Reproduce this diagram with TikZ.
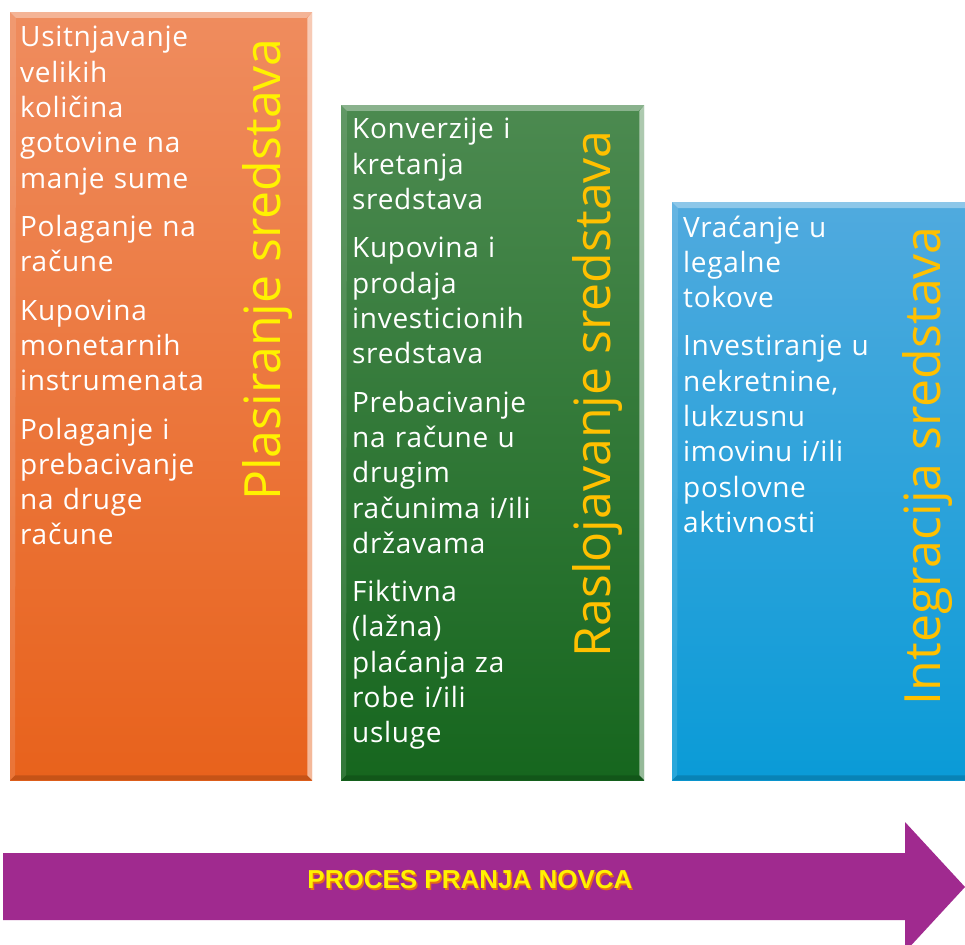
\documentclass[tikz,border=0pt]{standalone}
\usepackage{fontspec}
\setmainfont{Open Sans}
\newfontfamily\stavkefont{Open Sans}[LetterSpace=2.5]
\newfontfamily\naslovfont{Open Sans}
\newfontfamily\strelafont{Liberation Sans}
\usetikzlibrary{positioning, calc}
\definecolor{nargore}{RGB}{239,140,94}
\definecolor{nardole}{RGB}{232,98,28}
\definecolor{zelgore}{RGB}{76,138,80}
\definecolor{zeldole}{RGB}{22,102,30}
\definecolor{plagore}{RGB}{80,170,222}
\definecolor{pladole}{RGB}{10,155,215}
\definecolor{zlatna}{RGB}{255,192,0}
\definecolor{ljubicasta}{RGB}{160,42,143}
\definecolor{senkaboja}{RGB}{232,112,20}
\tikzset{kolona/.style={rectangle, inner sep=0, anchor=north west},
	stavke/.style={anchor=base west, text width=250pt, align=left, inner sep=0, text=white,
		font=\stavkefont\fontsize{28}{35.3}\selectfont},
	naslov/.style={rotate=90, anchor=base east, inner sep=0,
		font=\naslovfont\fontsize{50}{50}\selectfont},
	proces/.style={inner sep=0, font=\strelafont\bfseries\fontsize{26}{26}\selectfont} }
% bevel rim of a column
\newcommand{\ivica}[1]{%
	\fill[white, opacity=.35] (#1.north west) -- (#1.north east) -- ($(#1.north east)+(-6,6)$) -- ($(#1.north west)+(6,6)$) -- cycle;
	\fill[white, opacity=.55] (#1.north east) -- (#1.south east) -- ($(#1.south east)+(-5,-5)$) -- ($(#1.north east)+(-5,6)$) -- cycle;
	\fill[black, opacity=.15] (#1.south west) -- (#1.south east) -- ($(#1.south east)+(-5,-5)$) -- ($(#1.south west)+(5,-5)$) -- cycle;
	\fill[white, opacity=.12] (#1.north west) -- (#1.south west) -- ($(#1.south west)+(5,-5)$) -- ($(#1.north west)+(6,6)$) -- cycle;}

\begin{document}
\begin{tikzpicture}[x=1pt, y=-1pt]
	\useasboundingbox (0,0) rectangle (965,944);

	\node (plas) [kolona, minimum width=302pt, minimum height=768pt, top color=nargore, bottom color=nardole] at (10,12) {};
	\node (rasl) [kolona, minimum width=303pt, minimum height=675pt, top color=zelgore, bottom color=zeldole] at (341,105) {};
	\node (integ) [kolona, minimum width=302pt, minimum height=578pt, top color=plagore, bottom color=pladole] at (672,202) {};
	\ivica{plas} \ivica{rasl} \ivica{integ}

	\node (plas-t) [stavke] at ($(plas.north west)+(10,35)$)
		{Usitnjavanje\\ velikih\\ količina\\ gotovine na\\ manje sume\\[13pt]
		 Polaganje na\\ račune\\[13pt]
		 Kupovina\\ monetarnih\\ instrumenata\\[13pt]
		 Polaganje i\\ prebacivanje\\ na druge\\ račune};
	\node (rasl-t) [stavke] at ($(rasl.north west)+(11,34)$)
		{Konverzije i\\ kretanja\\ sredstava\\[13pt]
		 Kupovina i\\ prodaja\\ investicionih\\ sredstava\\[13pt]
		 Prebacivanje\\ na račune u\\ drugim\\ računima i/ili\\ državama\\[13pt]
		 Fiktivna\\ (lažna)\\ plaćanja za\\ robe i/ili\\ usluge};
	\node (integ-t) [stavke] at ($(integ.north west)+(11,35)$)
		{Vraćanje u\\ legalne\\ tokove\\[13pt]
		 Investiranje u\\ nekretnine,\\ lukzusnu\\ imovinu i/ili\\ poslovne\\ aktivnosti};

	\node (plas-n) [naslov, text=yellow] at (280,38) {Plasiranje sredstava};
	\node (rasl-n) [naslov, text=zlatna] at (610,130) {Raslojavanje sredstava};
	\node (integ-n) [naslov, text=zlatna] at (940,226) {Integracija sredstava};

	% arrow of the process
	\fill[ljubicasta] (3,853) -- (905,853) -- (905,822) -- (965,887) -- (905,952) -- (905,920) -- (3,920) -- cycle;
	\node (senka) [proces, text=senkaboja] at (471.5,881.5) {PROCES PRANJA NOVCA};
	\node (naziv) [proces, text=yellow] at (470,880) {PROCES PRANJA NOVCA};
\end{tikzpicture}
\end{document}
